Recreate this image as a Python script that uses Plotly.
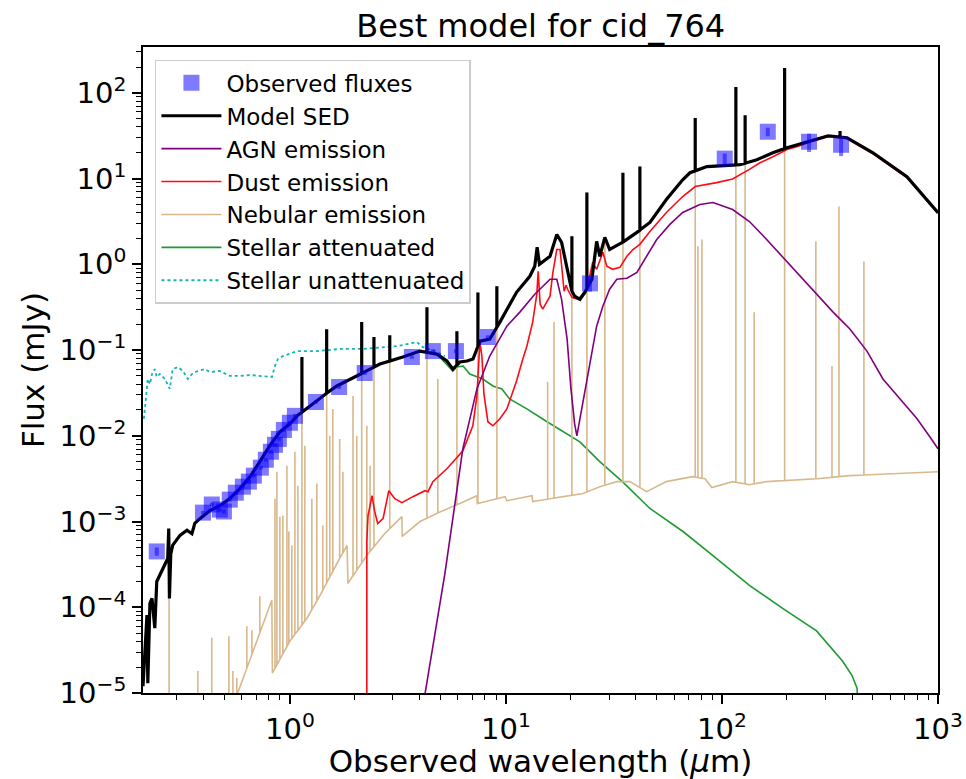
import numpy as np
import plotly.graph_objects as go

# ---------------- data (wavelength in micron, flux in mJy) ----------------
obs_wl = [0.242, 0.396, 0.435, 0.474, 0.495, 0.527, 0.562, 0.606, 0.646, 0.681,
          0.734, 0.774, 0.817, 0.853, 0.889, 0.938, 1.0, 1.055, 1.32, 1.69,
          2.22, 3.67, 4.59, 5.87, 8.25, 24.5, 103, 163, 253, 356]
obs_flux = [4.48e-4, 1.27e-3, 1.58e-3, 1.38e-3, 1.31e-3, 1.80e-3, 2.17e-3, 2.55e-3, 2.92e-3, 3.43e-3,
            4.25e-3, 5.26e-3, 6.52e-3, 7.85e-3, 9.2e-3, 0.0117, 0.0142, 0.0171, 0.0248, 0.0371,
            0.0540, 0.083, 0.0973, 0.0973, 0.142, 0.60, 17.1, 35.2, 26.9, 24.8]
obs_err = [5e-5, 6e-5, 8e-5, 7e-5, 7e-5, 9e-5, 1.1e-4, 1.3e-4, 1.5e-4, 1.7e-4,
           2.1e-4, 2.6e-4, 3.3e-4, 3.9e-4, 4.6e-4, 6e-4, 7e-4, 9e-4, 1.2e-3, 1.9e-3,
           2.7e-3, 4e-3, 5e-3, 5e-3, 7e-3, 0.12, 2.5, 4.0, 6.5, 6.5]

model_wl = [0.209, 0.213, 0.218, 0.220, 0.225, 0.230, 0.237, 0.242, 0.250, 0.264,
            0.272, 0.275, 0.277, 0.281, 0.287, 0.310, 0.334, 0.352, 0.363, 0.383,
            0.426, 0.474, 0.527, 0.587, 0.653, 0.726, 0.808, 0.899, 1.0, 1.08,
            1.24, 1.42, 1.65, 2.04, 2.61, 3.33, 4.0, 4.79, 5.33, 5.68,
            6.12, 6.6, 7.04, 7.58, 8.42, 9.38, 10.1, 11.2, 12.9, 13.6,
            13.95, 14.3, 16.0, 17.2, 18.1, 19.2, 20.0, 20.8, 22.0, 23.2,
            25.0, 26.3, 27.2, 28.7, 30.2, 34.6, 40.4, 46.4, 55.3, 65.8,
            71.1, 85.2, 101, 121, 145, 172, 200, 248, 310, 379,
            500, 718, 1000]
model_flux = [1.2e-5, 2.55e-5, 8.1e-5, 1.3e-5, 1.11e-4, 1.27e-4, 5.7e-5, 2.0e-4, 2.35e-4, 3.1e-4,
              3.7e-4, 8.3e-4, 1.27e-4, 4.2e-4, 5.3e-4, 6.9e-4, 7.9e-4, 7.2e-4, 9.5e-4, 1.08e-3,
              1.34e-3, 1.53e-3, 1.85e-3, 2.42e-3, 3.3e-3, 5.0e-3, 7.7e-3, 0.0111, 0.0138, 0.0171,
              0.0223, 0.0292, 0.0381, 0.0499, 0.0687, 0.083, 0.0973, 0.0898, 0.0745, 0.060,
              0.0725, 0.0745, 0.0786, 0.127, 0.134, 0.212, 0.30, 0.472, 0.725, 0.95,
              1.58, 1.0, 1.24, 2.23, 1.80, 0.875, 0.51, 0.425, 0.39, 0.472,
              0.67, 1.85, 1.24, 2.06, 1.49, 1.80, 2.36, 3.08, 5.7, 9.7,
              11.7, 13.8, 14.2, 14.5, 16.6, 20.0, 22.9, 26.9, 31.6, 30.0,
              20.0, 10.5, 4.0]
model_line_wl = [1.137, 1.48, 2.15, 2.45, 2.90, 4.31, 5.93, 7.42, 9.08, 20.2,
                 23.7, 34.8, 41.7, 75.2, 116, 128, 195, 352]
model_line_peak = [0.083, 0.175, 0.212, 0.142, 0.149, 0.316, 0.166, 0.47, 0.555, 2.12,
                   6.9, 11.7, 13.8, 51, 117, 55, 195, 36]

agn_wl = [4.2, 5.22, 6.32, 7.34, 8.42, 10.1, 11.6, 13.6, 16.0, 17.2,
          18.1, 19.2, 20.0, 20.8, 21.3, 22.0, 23.7, 25.0, 26.3, 28.1,
          30.2, 32.6, 36.3, 40.4, 44.7, 49.9, 57.4, 65.8, 79, 90.9,
          112, 134, 161, 191, 230, 275, 327, 391, 469, 556,
          667, 800, 918, 1000]
agn_flux = [9e-6, 2.48e-4, 7.06e-3, 0.0352, 0.0851, 0.190, 0.277, 0.448, 0.67, 0.67,
            0.39, 0.134, 0.0352, 0.0138, 0.010, 0.0158, 0.046, 0.103, 0.190, 0.325,
            0.512, 0.67, 0.687, 0.807, 1.24, 1.95, 2.92, 4.02, 4.99, 5.26,
            4.36, 3.16, 1.95, 1.21, 0.725, 0.448, 0.277, 0.176, 0.0973, 0.046,
            0.0269, 0.0158, 9.7e-3, 7.06e-3]

dust_wl = [2.27, 2.271, 2.30, 2.40, 2.47, 2.55, 2.70, 2.87, 3.06, 3.30,
           3.71, 4.22, 4.36, 4.59, 5.33, 6.32, 7.03, 7.34, 7.58, 7.74,
           7.91, 8.25, 8.7, 9.38, 10.1, 10.8, 11.2, 11.9, 12.5, 13.3,
           13.9, 14.1, 14.4, 14.8, 16.0, 16.5, 17.2, 17.8, 18.1, 18.6,
           19.0, 19.3, 20.2, 21.6, 23.7, 25.2, 26.3, 27.2, 28.1, 29.3,
           31.2, 33.7, 36.3, 38.7, 41.7, 46.4, 55.3, 65.8, 75.2, 94.5,
           112, 134, 150, 172, 200, 222, 248, 310, 379, 500,
           718, 1000]
dust_flux = [8e-6, 5.85e-4, 1.17e-3, 2.0e-3, 1.31e-3, 9.5e-4, 1.08e-3, 2.29e-3, 1.85e-3, 1.66e-3,
             1.95e-3, 2.29e-3, 2.23e-3, 2.92e-3, 4.13e-3, 6.7e-3, 0.0131, 0.0292, 0.124, 0.0851,
             0.0308, 0.0146, 0.0131, 0.0158, 0.0206, 0.0325, 0.0436, 0.0745, 0.111, 0.212,
             0.448, 0.83, 0.343, 0.30, 0.425, 0.807, 1.49, 1.49, 0.948, 0.485,
             0.57, 0.512, 0.413, 0.39, 0.512, 1.05, 0.875, 1.08, 1.38, 0.948,
             0.875, 0.923, 1.24, 1.49, 1.71, 2.42, 4.02, 6.18, 8.07, 8.98,
             9.9, 12.8, 15.3, 18.0, 21.8, 23.6, 26.0, 30.8, 29.2, 19.5,
             10.3, 3.95]

neb_wl = [0.562, 0.825, 0.83, 1.0, 1.20, 1.38, 1.70, 1.84, 1.856, 2.27,
          2.75, 3.30, 3.31, 4.0, 5.11, 6.12, 7.34, 7.37, 9.9, 10.1,
          13.2, 13.3, 22.7, 27.2, 32.6, 37.5, 44.8, 55.3, 73.0, 83.5,
          89.8, 112, 134, 161, 275, 391, 1000]
neb_flux = [8.7e-6, 1.21e-4, 1.71e-5, 4.03e-5, 7.45e-5, 1.38e-4, 3.71e-4, 5.26e-4, 1.9e-4, 4.02e-4,
            7.25e-4, 1.14e-3, 6.7e-4, 1.0e-3, 1.34e-3, 1.62e-3, 2.0e-3, 1.62e-3, 1.95e-3, 1.75e-3,
            2.0e-3, 1.71e-3, 2.12e-3, 2.55e-3, 2.92e-3, 2.92e-3, 2.23e-3, 2.92e-3, 3.34e-3, 3.16e-3,
            2.49e-3, 2.92e-3, 2.69e-3, 2.92e-3, 3.16e-3, 3.43e-3, 3.81e-3]
neb_line_wl = [0.276, 0.375, 0.435, 0.522, 0.545, 0.568, 0.632, 0.667, 0.704, 0.726,
               0.853, 0.871, 0.899, 0.928, 0.969, 0.989, 1.021, 1.055, 1.089, 1.137,
               1.173, 1.264, 1.333, 1.42, 1.48, 1.53, 1.58, 1.70, 1.76, 1.96,
               2.04, 2.15, 2.27, 2.35, 2.45, 2.90, 4.31, 4.84, 5.93, 7.42,
               9.08, 15.6, 16.7, 20.2, 23.7, 28.7, 34.8, 41.7, 75.2, 77.4,
               80.8, 116, 128, 141, 195, 272, 323, 348, 454]
neb_line_peak = [1.27e-4, 1.8e-5, 4.4e-5, 4.6e-5, 1.8e-5, 1.5e-5, 6.0e-5, 5.4e-5, 4.0e-5, 1.34e-4,
                 1.85e-3, 3.81e-3, 1.14e-3, 1.17e-3, 4.48e-3, 7.65e-4, 5.26e-4, 6.52e-3, 2.62e-3, 0.083,
                 7.65e-3, 1.85e-3, 2.77e-3, 9.0e-4, 0.175, 0.0100, 0.0206, 9.2e-3, 3.81e-3, 0.0292,
                 0.0100, 0.212, 0.0131, 4.48e-3, 0.142, 0.145, 0.316, 0.046, 0.166, 0.472,
                 0.555, 0.0425, 0.212, 2.12, 6.9, 1.95, 11.7, 13.8, 51, 1.62,
                 1.95, 117, 55, 0.277, 195, 1.85, 0.065, 4.72, 1.08]

stel_att_wl = [3.33, 4.0, 4.79, 5.33, 5.68, 5.93, 6.34, 6.8, 7.33, 7.82,
               8.70, 9.58, 10.4, 12.5, 15.5, 22.0, 27.2, 34.7, 46.4, 66,
               94.5, 134, 191, 274, 362, 400, 422, 426]
stel_att_flux = [0.083, 0.0973, 0.0898, 0.0687, 0.057, 0.0634, 0.0652, 0.0526, 0.0485, 0.046,
                 0.0381, 0.0352, 0.0269, 0.0206, 0.0146, 0.0085, 0.0050, 0.0029, 1.42e-3, 7.65e-4,
                 3.7e-4, 1.8e-4, 9.7e-5, 5.3e-5, 2.35e-5, 1.6e-5, 1.14e-5, 7e-6]

stel_unatt_wl = [0.211, 0.213, 0.218, 0.220, 0.225, 0.230, 0.237, 0.242, 0.250, 0.264,
                 0.278, 0.287, 0.303, 0.320, 0.337, 0.356, 0.375, 0.404, 0.426, 0.474,
                 0.527, 0.587, 0.653, 0.726, 0.826, 0.853, 0.880, 0.928, 0.979, 1.08,
                 1.33, 1.70, 2.18, 3.13, 3.87, 4.13, 4.69, 5.22]
stel_unatt_flux = [0.0158, 0.0206, 0.0325, 0.046, 0.040, 0.0526, 0.060, 0.0485, 0.0526, 0.046,
                   0.0352, 0.060, 0.0634, 0.057, 0.046, 0.054, 0.057, 0.060, 0.0555, 0.057,
                   0.0499, 0.0499, 0.0512, 0.0499, 0.0485, 0.0652, 0.0786, 0.0851, 0.0898, 0.0973,
                   0.0973, 0.103, 0.103, 0.111, 0.124, 0.108, 0.0973, 0.0851]

xtick_vals = [1, 10, 100, 1000]
xtick_text = ["10<sup>0</sup>", "10<sup>1</sup>", "10<sup>2</sup>", "10<sup>3</sup>"]
ytick_vals = [1e-5, 1e-4, 1e-3, 1e-2, 1e-1, 1, 10, 100]
ytick_text = ["10<sup>\u22125</sup>", "10<sup>\u22124</sup>", "10<sup>\u22123</sup>",
              "10<sup>\u22122</sup>", "10<sup>\u22121</sup>", "10<sup>0</sup>",
              "10<sup>1</sup>", "10<sup>2</sup>"]


# ---------------- helpers ----------------
def with_lines(cw, cf, lw, lp):
    """Continuum plus narrow emission spikes rising from the continuum."""
    lx = np.log10(cw)
    ly = np.log10(cf)
    pts = [(w, 0, i, f) for i, (w, f) in enumerate(zip(cw, cf))]
    for j, (w, p) in enumerate(zip(lw, lp)):
        base = 10 ** np.interp(np.log10(w), lx, ly, left=-7.0, right=ly[-1])
        pts += [(w, 1, j * 3 + 0, base), (w, 1, j * 3 + 1, p), (w, 1, j * 3 + 2, base)]
    pts.sort(key=lambda t: (t[0], t[1], t[2]))
    return [t[0] for t in pts], [t[3] for t in pts]


model_x, model_y = with_lines(model_wl, model_flux, model_line_wl, model_line_peak)
neb_x, neb_y = with_lines(neb_wl, neb_flux, neb_line_wl, neb_line_peak)

FONT = "DejaVu Sans"
fig = go.Figure()

fig.add_trace(go.Scatter(x=stel_unatt_wl, y=stel_unatt_flux, mode="lines",
                         name="Stellar unattenuated", legendrank=7, legendgroup="g7",
                         line=dict(color="#10b5b5", width=1.8, dash="dot")))
fig.add_trace(go.Scatter(x=stel_att_wl, y=stel_att_flux, mode="lines",
                         name="Stellar attenuated", legendrank=6, legendgroup="g6",
                         line=dict(color="#1f9a33", width=1.6)))
fig.add_trace(go.Scatter(x=neb_x, y=neb_y, mode="lines",
                         name="Nebular emission", legendrank=5, legendgroup="g5",
                         line=dict(color="#d8b88c", width=1.6)))
fig.add_trace(go.Scatter(x=dust_wl, y=dust_flux, mode="lines",
                         name="Dust emission", legendrank=4, legendgroup="g4",
                         line=dict(color="#ff0a14", width=1.6)))
fig.add_trace(go.Scatter(x=agn_wl, y=agn_flux, mode="lines",
                         name="AGN emission", legendrank=3, legendgroup="g3",
                         line=dict(color="#800080", width=1.6)))
fig.add_trace(go.Scatter(x=model_x, y=model_y, mode="lines",
                         name="Model SED", legendrank=2, legendgroup="g2",
                         line=dict(color="black", width=3.2)))
fig.add_trace(go.Scatter(x=obs_wl, y=obs_flux, mode="markers",
                         name="Observed fluxes", legendrank=1, legendgroup="g1",
                         marker=dict(symbol="square", size=16, color="rgba(10,0,255,0.52)",
                                     line=dict(width=0)),
                         error_y=dict(type="data", array=obs_err, visible=True,
                                      color="rgba(10,0,255,0.52)", thickness=4, width=0)))

x_minor = [m * 10 ** e for e in (-1, 0, 1, 2) for m in range(2, 10) if 0.2 <= m * 10 ** e <= 1000]
y_minor = [m * 10 ** e for e in range(-5, 3) for m in range(2, 10)]

fig.update_layout(
    width=966, height=779,
    margin=dict(l=143, r=28, t=47, b=86),
    paper_bgcolor="white", plot_bgcolor="white",
    font=dict(family=FONT, color="black", size=26),
    title=dict(text="Best model for cid_764", x=0.5598, xanchor="center",
               y=0.967, yref="container", yanchor="middle",
               font=dict(family=FONT, size=32, color="black")),
    showlegend=True,
    legend=dict(x=0.015, y=0.98, xanchor="left", yanchor="top",
                bgcolor="rgba(255,255,255,0.85)", bordercolor="#cccccc", borderwidth=1.5,
                font=dict(family=FONT, size=23, color="black"),
                tracegroupgap=0, itemwidth=60),
)
fig.update_xaxes(type="log", range=[np.log10(0.209), 3], tickvals=xtick_vals, ticktext=xtick_text,
                 automargin=False,
                 ticks="outside", ticklen=9, tickwidth=1.5, tickcolor="black",
                 minor=dict(tickvals=x_minor, ticks="outside", ticklen=5, tickwidth=1, tickcolor="black"),
                 showline=True, linecolor="black", linewidth=1.8, mirror=True,
                 showgrid=False, zeroline=False,
                 tickfont=dict(family=FONT, size=29, color="black"),
                 title=dict(text="Observed wavelength (<i>\u03bc</i>m)", standoff=2,
                            font=dict(family=FONT, size=31, color="black")))
fig.update_yaxes(type="log", range=[-5, 2.535], tickvals=ytick_vals, ticktext=ytick_text,
                 automargin=False,
                 ticks="outside", ticklen=9, tickwidth=1.5, tickcolor="black",
                 minor=dict(tickvals=y_minor, ticks="outside", ticklen=5, tickwidth=1, tickcolor="black"),
                 showline=True, linecolor="black", linewidth=1.8, mirror=True,
                 showgrid=False, zeroline=False,
                 tickfont=dict(family=FONT, size=29, color="black"),
                 title=dict(text="Flux (mJy)", standoff=6,
                            font=dict(family=FONT, size=31, color="black")))

fig.write_html("out.html")
